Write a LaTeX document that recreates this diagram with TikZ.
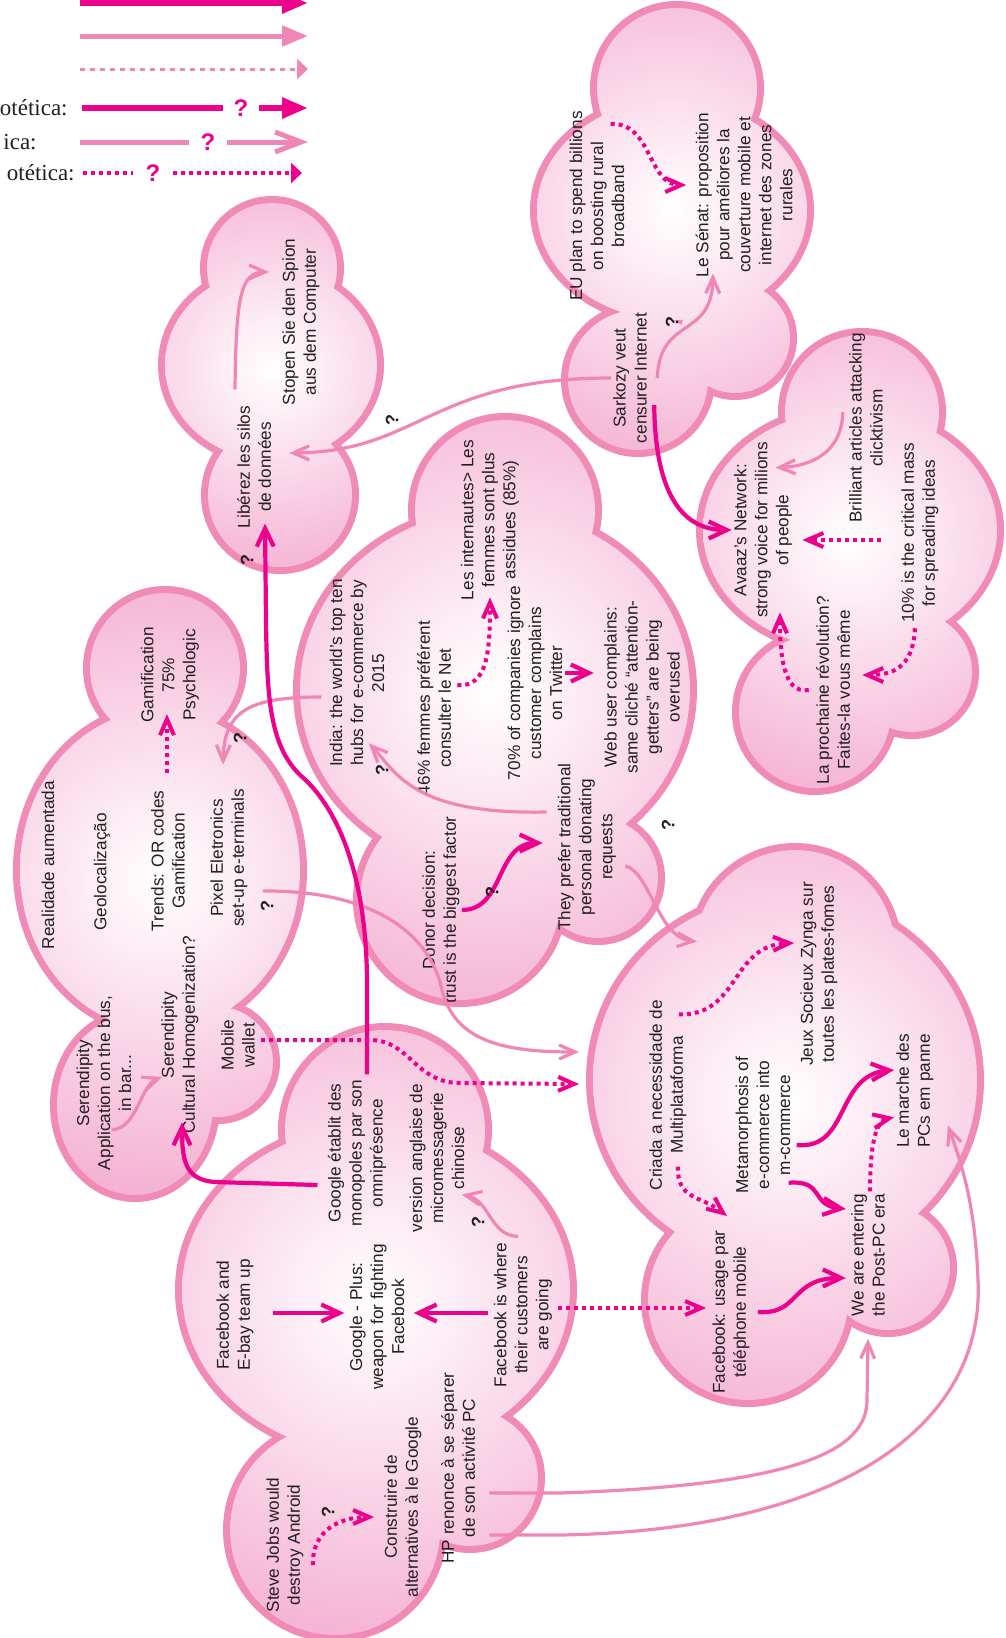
\documentclass[tikz,border=0pt]{standalone}
\usepackage{fontspec}
\setmainfont{Liberation Sans}
\newfontfamily\keyfont{Liberation Serif}
\usetikzlibrary{arrows.meta}

\definecolor{hotpink}{RGB}{236,0,140}
\definecolor{softpink}{RGB}{240,134,181}
\definecolor{cloudedge}{RGB}{240,138,182}
\definecolor{cloudfill}{RGB}{243,166,203}
\definecolor{inkgray}{RGB}{35,31,32}

\tikzset{
  idea/.style={rotate=90, align=center, inner sep=1pt, text=inkgray,
    font=\fontsize{8.6}{10.5}\selectfont},
  qmark/.style={rotate=90, inner sep=0pt, text=inkgray, font=\bfseries\fontsize{9}{9}\selectfont},
  strong/.style={draw=hotpink, line width=2.1pt, -{Straight Barb[length=9pt,width=8.5pt]}},
  weak/.style={draw=softpink, line width=1.6pt, -{Straight Barb[length=8pt,width=7pt]}},
  maybe/.style={draw=hotpink, line width=2pt, dash pattern=on 2pt off 2pt,
    -{Straight Barb[length=8pt,width=7pt]}},
  % legend
  keyhard/.style={draw=hotpink, line width=3pt},
  keysoft/.style={draw=softpink, line width=2.5pt},
  keyfaint/.style={draw=softpink, line width=1.5pt, dash pattern=on 2.5pt off 2.5pt},
  keydots/.style={draw=hotpink, line width=2pt, dash pattern=on 2pt off 2pt},
  bigtip/.style={-{Triangle[length=13pt,width=10pt]}},
  smalltip/.style={-{Triangle[length=5.5pt,width=10pt]}},
  bigbarb/.style={-{Straight Barb[length=13pt,width=10pt]}},
  keyq/.style={text=hotpink, inner sep=0pt, font=\bfseries\fontsize{12}{12}\selectfont},
  keytext/.style={anchor=east, inner sep=0pt, text=inkgray, font=\keyfont\fontsize{11.5}{12}\selectfont}
}

% shading centre x, y, shading radius, lobes x/y/rx/ry
\newcommand{\pinkcloud}[4]{%
  \fill[cloudedge] \foreach \lobx/\loby/\lobr/\lobs in {#4}
    {(\lobx,\loby) ellipse [x radius=\lobr+7, y radius=\lobs+7]};
  \begin{scope}
    \clip \foreach \lobx/\loby/\lobr/\lobs in {#4}
      {(\lobx,\loby) ellipse [x radius=\lobr, y radius=\lobs]};
    \shade[inner color=white, outer color=cloudfill] (#1,#2) circle (#3);
  \end{scope}}

\begin{document}
\begin{tikzpicture}[x=0.5pt, y=-0.5pt]
\useasboundingbox (0,0) rectangle (1006,1638);

% clouds
\pinkcloud{672}{210}{300}{677/88/80/80, 672/210/135/110, 638/380/70/70, 735/338/55/55}
\pinkcloud{272}{370}{240}{272/268/65/65, 271/365/106/95, 280/495/72/72}
\pinkcloud{850}{540}{300}{862/412/77/77, 850/530/147/120, 815/712/76/76, 912/672/60/60}
\pinkcloud{490}{690}{390}{505/510/90/90, 495/690/195/180, 460/900/100/100, 598/878/60/60}
\pinkcloud{160}{880}{360}{165/668/75/75, 160/870/140/160, 135/1105/78/90, 218/1062/55/55}
\pinkcloud{375}{1300}{400}{385/1130/100/100, 376/1290/194/165, 335/1530/105/105, 470/1478/68/68}
\pinkcloud{785}{1100}{390}{795/950/100/100, 785/1080/192/185, 748/1300/100/100, 888/1268/62/62}

% legend
\coordinate (k1a) at (80,3);   \coordinate (k1b) at (308,3);
\coordinate (k2a) at (80,36);  \coordinate (k2b) at (308,36);
\coordinate (k3a) at (80,69);  \coordinate (k3b) at (308,69);
\coordinate (k4a) at (82,108); \coordinate (k4b) at (308,108);
\coordinate (k5a) at (80,142); \coordinate (k5b) at (308,142);
\coordinate (k6a) at (83,173); \coordinate (k6b) at (302,173);
\draw[keyhard, bigtip] (k1a) -- (k1b);
\draw[keysoft, bigtip] (k2a) -- (k2b);
\draw[keyfaint, smalltip] (k3a) -- (k3b);
\node[keytext] (kt4) at (68,108) {otética:};
\node[keytext] (kt5) at (37,142) {ica:};
\node[keytext] (kt6) at (75,173) {otética:};
\node[keyq, minimum width=18pt] (kq4) at (241,108) {?};
\node[keyq, minimum width=18.5pt] (kq5) at (208,142) {?};
\node[keyq, minimum width=20pt] (kq6) at (153,173) {?};
\draw[keyhard] (k4a) -- (kq4.west);
\draw[keyhard, bigtip] (kq4.east) -- (k4b);
\draw[keysoft] (k5a) -- (kq5.west);
\draw[keysoft, bigbarb] (kq5.east) -- (k5b);
\draw[keydots] (k6a) -- (kq6.west);
\draw[keydots, smalltip] (kq6.east) -- (k6b);

% ideas
\node[idea] (eu) at (597,206) {EU plan to spend billions\\on boosting rural\\broadband};
\node[idea] (senat) at (744,195) {Le Sénat: proposition\\pour améliores la\\couverture mobile et\\internet des zones\\rurales};
\node[idea] (sarkozy) at (630,378) {Sarkozy veut\\censurer Internet};
\node[idea] (liberez) at (254,467) {Libérez les silos\\de données};
\node[idea] (stopen) at (301,322) {Stopen Sie den Spion\\aus dem Computer};
\node[idea] (avaaz) at (763,530) {Avaaz’s Network:\\strong voice for milions\\of people};
\node[idea] (brilliant) at (866,428) {Brilliant articles attacking\\clicktivism};
\node[idea] (critical) at (920,533) {10\% is the critical mass\\for spreading ideas};
\node[idea] (prochaine) at (833,690) {La prochaine révolution?\\Faites-la vous même};
\node[idea] (india) at (357,673) {India: the world’s top ten\\hubs for e-commerce by\\2015};
\node[idea] (femmes) at (434,708) {46\% femmes préférent\\consulter le Net};
\node[idea] (internautes) at (490,520) {Les internautes> Les\\femmes sont plus\\assidues (85\%)};
\node[idea] (companies) at (535,683) {70\% of companies ignore\\customer complains\\on Twitter};
\node[idea] (webuser) at (642,687) {Web user complains:\\same cliché “attention-\\getters” are being\\overused};
\node[idea] (prefer) at (587,847) {They prefer traditional\\personal donating\\requests};
\node[idea] (donor) at (441,910) {Donor decision:\\trust is the biggest factor};
\node[idea] (realidade) at (48,865) {Realidade aumentada};
\node[idea] (geoloc) at (102,872) {Geolocalização};
\node[idea] (trends) at (168,861) {Trends: OR codes\\Gamification};
\node[idea] (gamif) at (170,675) {Gamification\\75\%\\Psychologic};
\node[idea] (pixel) at (229,858) {Pixel Eletronics\\set-up e-terminals};
\node[idea] (serendapp) at (104,1083) {Serendipity\\Application on the bus,\\in bar...};
\node[idea] (serendcult) at (180,1035) {Serendipity\\Cultural Homogenization?};
\node[idea] (wallet) at (238,1045) {Mobile\\wallet};
\node[idea] (monopoles) at (357,1153) {Google établit des\\monopoles par son\\omniprésence};
\node[idea] (micromsg) at (437,1158) {version anglaise de\\micromessagerie\\chinoise};
\node[idea] (fbebay) at (235,1315) {Facebook and\\E-bay team up};
\node[idea] (gplus) at (377,1317) {Google - Plus:\\weapon for fighting\\Facebook};
\node[idea] (fbwhere) at (523,1315) {Facebook is where\\their customers\\are going};
\node[idea] (jobs) at (285,1545) {Steve Jobs would\\destroy Android};
\node[idea] (construire) at (403,1507) {Construire de\\alternatives à le Google};
\node[idea] (hp) at (458,1468) {HP renonce à se séparer\\de son activité PC};
\node[idea] (criada) at (668,1095) {Criada a necessidade de\\Multiplataforma};
\node[idea] (metamorph) at (763,1125) {Metamorphosis of\\e-commerce into\\m-commerce};
\node[idea] (jeux) at (819,974) {Jeux Socieux Zynga sur\\toutes les plates-fomes};
\node[idea] (marche) at (915,1091) {Le marche des\\PCs em panne};
\node[idea] (fbmobile) at (731,1312) {Facebook: usage par\\téléphone mobile};
\node[idea] (postpc) at (868,1255) {We are entering\\the Post-PC era};

% links
\draw[maybe] ([xshift=-8pt,yshift=-7.5pt]eu.south east) .. controls (652,122) and (648,185) .. ([xshift=-3.5pt,yshift=5pt]senat.north);
\draw[weak] ([xshift=4pt]sarkozy.south) .. controls (660,315) and (712,340) .. ([xshift=-15.5pt,yshift=3pt]senat.west);
\draw[weak] (sarkozy.north) .. controls (430,378) and (420,452) .. ([xshift=8pt,yshift=7pt]liberez.south);
\draw[strong] ([xshift=2.5pt,yshift=-13.5pt]sarkozy.south) .. controls (655,490) and (680,530) .. (avaaz.north);
\draw[weak] ([xshift=-9.5pt,yshift=7pt]liberez.east) .. controls (236,300) and (240,272) .. ([xshift=-5.5pt,yshift=25pt]stopen.north);

\draw[weak] ([xshift=-2pt,yshift=8pt]brilliant.north) .. controls (842,450) and (815,466) .. ([xshift=-9.5pt,yshift=-14pt]avaaz.south east);
\draw[maybe] ([xshift=-9pt,yshift=-3.5pt]critical.north) -- ([xshift=4pt,yshift=-5pt]avaaz.south);
\draw[maybe] ([xshift=-2.5pt,yshift=-1.5pt]critical.west) .. controls (913,670) and (890,675) .. ([xshift=5pt,yshift=7.5pt]prochaine.south);
\draw[maybe] ([xshift=-2.5pt]prochaine.north) .. controls (782,695) and (780,650) .. ([xshift=8.5pt,yshift=4pt]avaaz.west);

\draw[maybe] ([xshift=2pt,yshift=11.5pt]femmes.south) .. controls (488,688) and (490,650) .. ([yshift=2.5pt]internautes.west);
\draw[strong] ([yshift=5pt]companies.south) -- ([xshift=-4pt,yshift=7pt]webuser.north);
\draw[weak] ([xshift=-4.5pt,yshift=17.5pt]prefer.north) .. controls (410,815) and (395,770) .. ([xshift=-9pt,yshift=13pt]india.south west);
\draw[strong] (donor.south) .. controls (505,910) and (495,843) .. ([xshift=-6.5pt,yshift=2pt]prefer.north);
\draw[weak] ([xshift=3.5pt,yshift=-9.5pt]prefer.south) .. controls (650,872) and (658,938) .. ([xshift=14.5pt,yshift=28pt]criada.east);

\draw[maybe] ([xshift=-0.5pt,yshift=7.5pt]trends.east) -- ([xshift=-1.5pt,yshift=5.5pt]gamif.west);
\draw[weak] ([xshift=-3pt,yshift=-12pt]india.north) .. controls (250,697) and (224,710) .. ([xshift=-3pt,yshift=11pt]pixel.east);
\draw[weak] ([xshift=6.5pt,yshift=-16.5pt]pixel.south) .. controls (360,890) and (428,925) .. (442,990)
  .. controls (455,1040) and (500,1052) .. ([xshift=-34pt,yshift=21.5pt]criada.north);
\draw[weak] ([xshift=-11pt,yshift=-23.5pt]serendapp.south) .. controls (138,1128) and (140,1085) .. ([xshift=1.5pt,yshift=-21pt]serendcult.north);
\draw[maybe] ([xshift=2pt,yshift=2.5pt]wallet.south) -- (370,1040) .. controls (410,1040) and (415,1083) .. (460,1083)
  -- ([xshift=-34pt,yshift=5.5pt]criada.north);

\draw[strong] ([xshift=5pt,yshift=1.5pt]monopoles.east) -- (367,980) .. controls (366,860) and (330,800) .. (300,775)
  .. controls (270,745) and (267,700) .. (266,620) -- ([xshift=5.5pt,yshift=3.5pt]liberez.west);
\draw[strong] ([xshift=-4pt,yshift=-16pt]monopoles.north) -- (215,1182) .. controls (185,1180) and (182,1160) .. ([xshift=1pt,yshift=7pt]serendcult.west);
\draw[strong] ([xshift=8.5pt,yshift=1pt]fbebay.south) -- ([xshift=-1.5pt,yshift=2pt]gplus.north);
\draw[strong] ([xshift=-2pt,yshift=1pt]fbwhere.north) -- ([xshift=3.5pt,yshift=2pt]gplus.south);
\draw[weak] ([xshift=-2.5pt,yshift=2pt]fbwhere.east) .. controls (490,1236) and (490,1200) .. ([xshift=-2.5pt,yshift=20pt]micromsg.south west);
\draw[maybe] ([xshift=2pt,yshift=3.5pt]fbwhere.south) -- ([xshift=-2pt,yshift=2pt]fbmobile.north);
\draw[maybe] ([xshift=3.5pt,yshift=-10pt]jobs.south) .. controls (312,1530) and (340,1517) .. ([xshift=-4pt,yshift=-5pt]construire.north);
\draw[weak] ([xshift=6pt,yshift=-12.5pt]hp.south) -- (560,1493) .. controls (800,1485) and (867,1450) .. (867,1400)
  -- ([yshift=-10pt]postpc.west);
\draw[weak] ([xshift=6pt,yshift=-33.5pt]hp.south) -- (560,1535) .. controls (850,1530) and (985,1420) .. (978,1280)
  .. controls (975,1200) and (960,1160) .. ([xshift=6pt,yshift=12.5pt]marche.south west);

\draw[maybe] ([xshift=-5pt,yshift=-8.5pt]criada.south east) .. controls (740,1016) and (730,945) .. ([xshift=-2pt,yshift=15.5pt]jeux.north);
\draw[maybe] ([xshift=-5.5pt,yshift=13pt]criada.south west) .. controls (677,1200) and (700,1195) .. ([xshift=-2pt,yshift=6pt]fbmobile.east);
\draw[strong] ([xshift=2pt,yshift=-10pt]metamorph.south) .. controls (850,1150) and (835,1075) .. ([yshift=10.5pt]marche.north);
\draw[strong] ([xshift=-2pt,yshift=6.5pt]metamorph.south west) .. controls (825,1180) and (810,1205) .. ([xshift=-1.5pt,yshift=23pt]postpc.north);
\draw[maybe] ([xshift=1pt]postpc.east) .. controls (870,1130) and (880,1120) .. ([yshift=16.5pt]marche.north west);
\draw[strong] ([xshift=3pt]fbmobile.south) .. controls (800,1315) and (790,1278) .. ([xshift=-1.5pt,yshift=-11.5pt]postpc.north);

% question marks
\node[qmark] (q1) at (672,322) {?};
\node[qmark] (q2) at (392,420) {?};
\node[qmark] (q3) at (247,560) {?};
\node[qmark] (q4) at (240,738) {?};
\node[qmark] (q5) at (267,906) {?};
\node[qmark] (q6) at (382,770) {?};
\node[qmark] (q7) at (492,892) {?};
\node[qmark] (q8) at (668,825) {?};
\node[qmark] (q9) at (478,1222) {?};
\node[qmark] (q10) at (328,1512) {?};
\end{tikzpicture}
\end{document}
